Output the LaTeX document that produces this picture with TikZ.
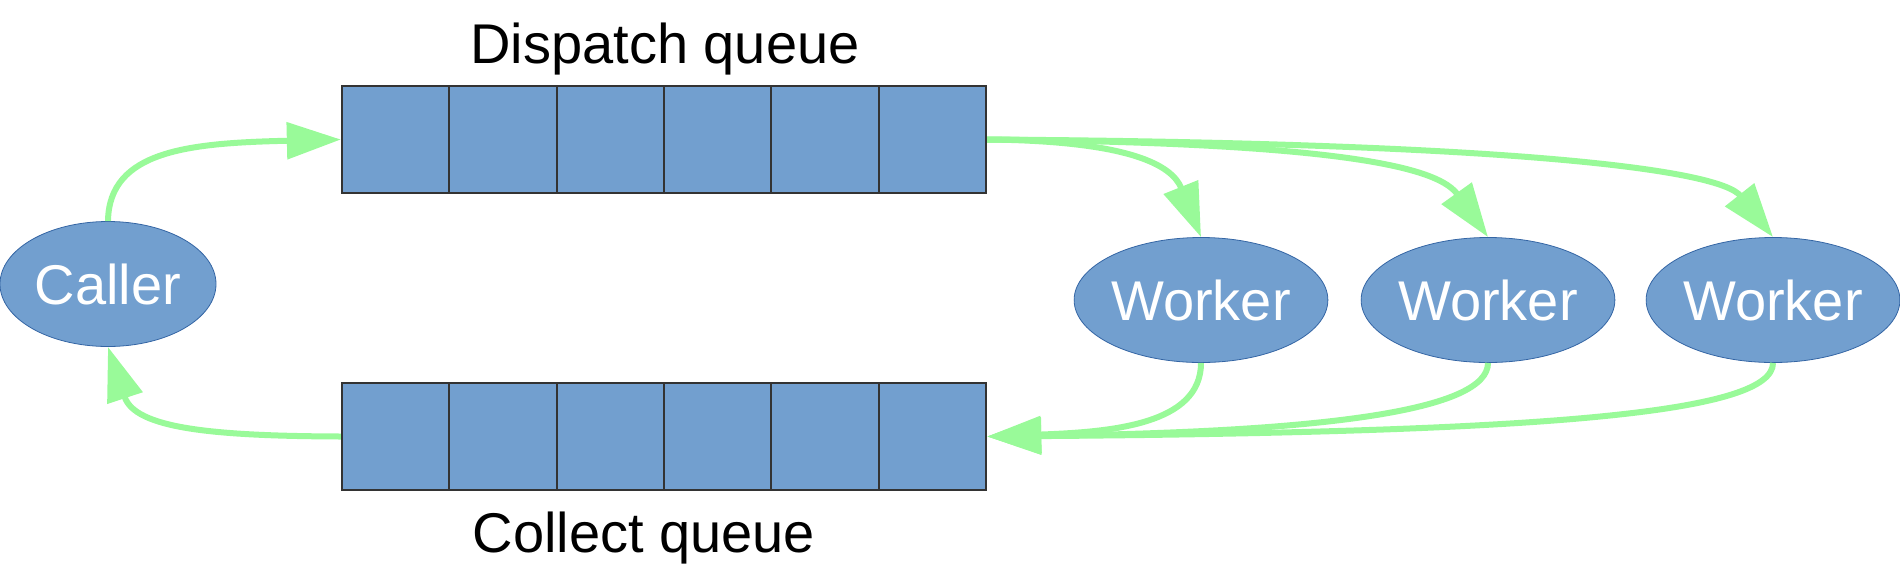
\documentclass[tikz,border=0pt]{standalone}
\usepackage{fontspec}
\setmainfont{Liberation Sans}
\usetikzlibrary{arrows.meta,shapes.geometric}
\definecolor{nodeblue}{RGB}{114,159,207}
\definecolor{nodeedge}{RGB}{52,101,164}
\definecolor{celledge}{RGB}{51,51,51}
\definecolor{flowgreen}{RGB}{153,250,153}
\tikzset{
  cell/.style={draw=celledge, line width=1.15pt, fill=nodeblue, minimum width=53.67pt, minimum height=53.5pt, inner sep=0pt},
  actor/.style={ellipse, draw=nodeedge, line width=0.4pt, fill=nodeblue, text=white, inner sep=0pt, minimum height=62.5pt, font=\fontsize{28}{32}\selectfont},
  lbl/.style={font=\fontsize{28}{32}\selectfont, anchor=base, inner sep=0pt},
  flow/.style={draw=flowgreen, line width=3pt, -{Triangle[length=27pt,width=18pt]}}
}
\begin{document}
\begin{tikzpicture}[x=0.5pt,y=-0.5pt]
\useasboundingbox (0,0) rectangle (1900,579);
% queues
\foreach \i in {1,...,6}{
  \node[cell] (d\i) at ({342+107.33*(\i-0.5)},139.5) {};
  \node[cell] (c\i) at ({342+107.33*(\i-0.5)},436.5) {};
}
\node[lbl] (dlabel) at (665,63) {Dispatch queue};
\node[lbl] (clabel) at (644,552) {Collect queue};
% actors
\node[actor, minimum width=108pt] (caller) at (108,284) {Caller};
\node[actor, minimum width=126pt] (w1) at (1201,300) {Worker};
\node[actor, minimum width=126pt] (w2) at (1488,300) {Worker};
\node[actor, minimum width=126pt] (w3) at (1773,300) {Worker};
% connectors
\draw[flow] (caller.north) .. controls (109,150) and (190,143) .. (d1.west);
\draw[flow] (c1.west) .. controls (210,436) and (135,428) .. (caller.south);
\draw[flow] (d6.east) .. controls (1130,141) and (1172,165) .. (w1.north);
\draw[flow] (d6.east) .. controls (1360,143) and (1440,170) .. (w2.north);
\draw[flow] (d6.east) .. controls (1520,143) and (1720,170) .. (w3.north);
\draw[flow] (w1.south) .. controls (1201,425) and (1110,432) .. (c6.east);
\draw[flow] (w2.south) .. controls (1488,410) and (1330,432) .. (c6.east);
\draw[flow] (w3.south) .. controls (1773,412) and (1560,432) .. (c6.east);
\end{tikzpicture}
\end{document}
